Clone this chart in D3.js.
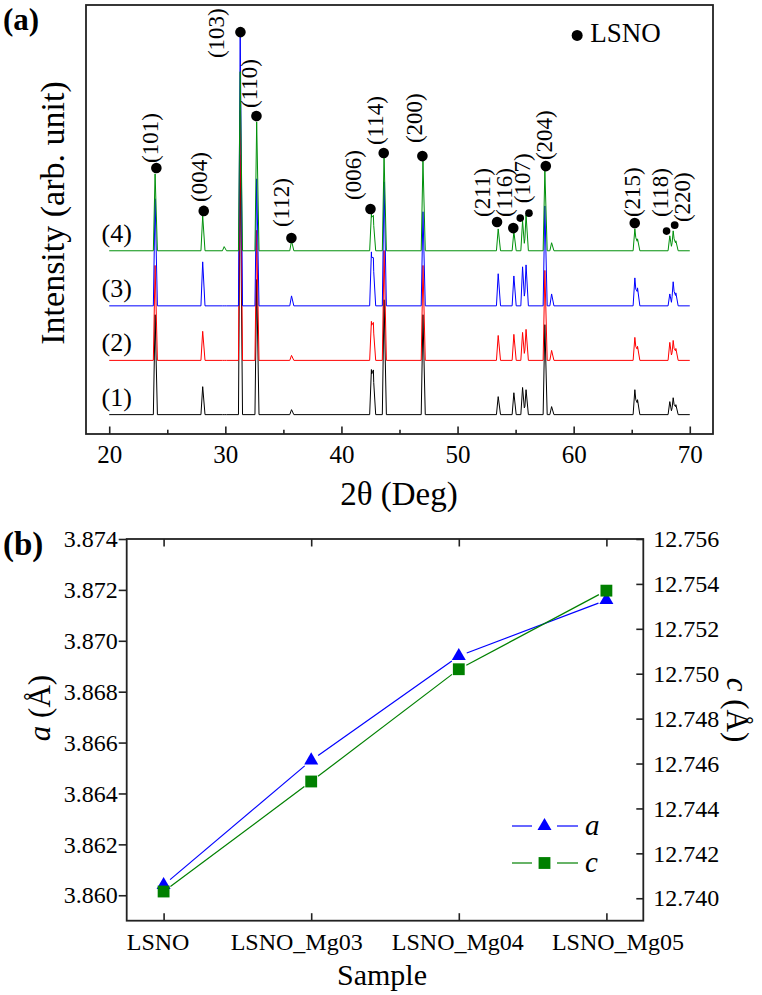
<!DOCTYPE html>
<html><head><meta charset="utf-8">
<script src="https://cdn.jsdelivr.net/npm/d3@7"></script>
<style>
body{margin:0;background:#fff}
svg{display:block}
text{font-family:"Liberation Serif","Times New Roman",Times,serif;fill:#000}
</style>
</head><body>
<svg id="c" width="762" height="995"></svg>
<script>
// ================= DATA =================
// (a) XRD patterns: peak positions (2θ, deg) and peak intensities (a.u.) per sample
const peakTheta = [23.95, 28.05, 29.9, 31.28, 32.7, 35.7, 42.58, 42.75, 43.67, 47.02, 53.5, 54.85, 55.6, 55.9, 57.52, 58.1, 65.27, 65.5, 68.28, 68.57, 68.8];
const pattern1  = [36.1, 10.1, 0.0, 93.9, 48.8, 1.8, 16.3, 13.7, 41.5, 36.1, 6.5, 7.9, 9.8, 9.0, 32.5, 2.9, 9.0, 5.4, 4.7, 6.1, 3.6]; // (1) black
const pattern2  = [34.3, 10.5, 0.0, 90.3, 47.0, 1.8, 14.1, 11.6, 39.7, 34.3, 9.0, 9.4, 10.1, 11.2, 32.5, 3.6, 8.3, 5.1, 6.5, 7.2, 4.3]; // (2) red
const pattern3  = [38.7, 15.9, 0.0, 99.7, 45.9, 3.6, 19.5, 14.5, 44.8, 34.0, 11.6, 10.8, 14.1, 14.8, 36.1, 4.3, 10.1, 6.5, 4.3, 8.7, 4.7]; // (3) blue
const pattern4  = [27.8, 12.6, 1.5, 64.7, 46.6, 3.6, 13.4, 10.8, 34.3, 32.5, 7.9, 6.9, 10.8, 13.0, 28.9, 2.9, 7.9, 4.3, 5.4, 7.2, 3.6]; // (4) green
const stackOffset = [0, 19.6, 39.3, 59.2];
const sampleTags = ["(1)", "(2)", "(3)", "(4)"];
const thetaRange = [20, 70];
const thetaTicks = [20, 30, 40, 50, 60, 70];
const thetaMinorTicks = [25, 35, 45, 55, 65];

// LSNO reflection markers
const hklLabels = ["(101)", "(004)", "(103)", "(110)", "(112)", "(006)", "(114)", "(200)", "(211)", "(116)", "", "(107)", "(204)", "(215)", "(118)", "(220)"];
const hklTheta  = [24.06, 28.14, 31.3, 32.68, 35.69, 42.5, 43.64, 46.97, 53.4, 54.8, 55.4, 56.15, 57.6, 65.26, 68.0, 68.7];
const hklI      = [89.1, 73.6, 138.2, 107.9, 63.8, 74.3, 94.5, 93.4, 69.6, 67.4, 71.0, 72.8, 89.8, 69.2, 66.3, 68.5];

// (b) lattice parameters
const samples = ["LSNO", "LSNO_Mg03", "LSNO_Mg04", "LSNO_Mg05"];
const aValues = [3.8604, 3.8653, 3.8694, 3.8716];
const cValues = [12.7403, 12.7452, 12.7502, 12.7537];
const aTicks = [3.860, 3.862, 3.864, 3.866, 3.868, 3.870, 3.872, 3.874];
const cTicks = [12.740, 12.742, 12.744, 12.746, 12.748, 12.750, 12.752, 12.754, 12.756];

// ================= STYLE / LAYOUT =================
const seriesColor = ["#000000", "#ff0000", "#0000ff", "#00900a"];
const frameColor = "#222";
const smallDot = {"": 3.8, "(107)": 3.8, "(118)": 3.8, "(220)": 3.9};
const labelOffset = {
  "(101)": [2, -5], "(004)": [3, -9], "(103)": [-16, 26], "(110)": [1, -8], "(112)": [-2, -11],
  "(006)": [-9, -9], "(114)": [-1, -8], "(200)": [0, -13], "(211)": [-7, -5], "(116)": [-1, -11],
  "(107)": [1, -10], "(204)": [6, -6], "(215)": [5, -6], "(118)": [1, -14], "(220)": [15, -3]
};
const sampleLabelShift = [-6, -15, -1.5, 11];

const svg = d3.select("#c");

// ================= PANEL (a) =================
const TP = {l: 86, r: 713, t: 5, b: 434};
const x = d3.scaleLinear().domain([18, 72]).range([TP.l, TP.r]);
const y = d3.scaleLinear().domain([-7, 148]).range([TP.b, TP.t]);

function profile(heights, off) {
  const set = new Set(thetaRange);
  peakTheta.forEach(t => { set.add(+(t - 0.15).toFixed(3)); set.add(t); set.add(+(t + 0.2).toFixed(3)); });
  const xs = [...set].sort((a, b) => a - b);
  return xs.map(xv => {
    let v = 0;
    peakTheta.forEach((t, i) => {
      const h = heights[i];
      if (xv >= t - 0.15 && xv <= t) v += h * Math.min(1, (xv - (t - 0.15)) / 0.15);
      else if (xv > t && xv <= t + 0.2) v += h * ((t + 0.2) - xv) / 0.2;
    });
    return [xv, v + off];
  });
}

const line = d3.line().x(d => x(d[0])).y(d => y(d[1]));
const patterns = [pattern1, pattern2, pattern3, pattern4];
const gA = svg.append("g");
patterns.forEach((p, i) => {
  gA.append("path").datum(profile(p, stackOffset[i]))
    .attr("d", line).attr("fill", "none")
    .attr("stroke", seriesColor[i]).attr("stroke-width", 1).attr("stroke-linejoin", "round");
  gA.append("text").attr("x", x(19.6) - 3).attr("y", y(stackOffset[i]) - 9)
    .attr("font-size", 26).text(sampleTags[i]);
});

// markers
hklTheta.forEach((t, i) => {
  const lab = hklLabels[i];
  const cx = x(t), cy = y(hklI[i]);
  gA.append("circle").attr("cx", cx).attr("cy", cy)
    .attr("r", smallDot[lab] !== undefined ? smallDot[lab] : 5.3).attr("fill", "#000");
  if (lab) {
    const o = labelOffset[lab];
    gA.append("text").attr("transform", `translate(${cx + o[0]},${cy + o[1]}) rotate(-90)`)
      .attr("font-size", 23).text(lab);
  }
});

// legend
gA.append("circle").attr("cx", x(60.3)).attr("cy", y(137)).attr("r", 5.5).attr("fill", "#000");
gA.append("text").attr("x", x(60.3) + 13).attr("y", y(137) + 7).attr("font-size", 27).text("LSNO");

// frame + axis
gA.append("rect").attr("x", TP.l).attr("y", TP.t).attr("width", TP.r - TP.l).attr("height", TP.b - TP.t)
  .attr("fill", "none").attr("stroke", frameColor).attr("stroke-width", 1.8);
const axA = gA.append("g").attr("transform", `translate(0,${TP.b})`)
  .call(d3.axisBottom(x).tickValues(thetaTicks).tickSizeInner(-7.5).tickSizeOuter(0).tickPadding(11));
axA.select(".domain").remove();
axA.selectAll("line").attr("stroke", frameColor).attr("stroke-width", 1.6);
axA.selectAll("text").attr("font-size", 25).attr("font-family", null);
const axAm = gA.append("g").attr("transform", `translate(0,${TP.b})`)
  .call(d3.axisBottom(x).tickValues(thetaMinorTicks).tickSizeInner(-4.3).tickSizeOuter(0).tickFormat(""));
axAm.select(".domain").remove();
axAm.selectAll("line").attr("stroke", frameColor).attr("stroke-width", 1.6);

gA.append("text").attr("x", 399).attr("y", 505).attr("text-anchor", "middle").attr("font-size", 33).text("2θ (Deg)");
gA.append("text").attr("transform", "translate(64,213) rotate(-90)").attr("text-anchor", "middle")
  .attr("font-size", 34).text("Intensity (arb. unit)");
svg.append("text").attr("x", 3).attr("y", 30).attr("font-size", 31).attr("font-weight", "bold").text("(a)");

// ================= PANEL (b) =================
const BP = {l: 126.7, r: 643.3, t: 539, b: 920.7};
const xb = d3.scaleLinear().domain([-0.25, 3.25]).range([BP.l, BP.r]);
const ya = d3.scaleLinear().domain([3.859, 3.874]).range([BP.b, BP.t]);
const yc = d3.scaleLinear().domain([12.739, 12.756]).range([BP.b, BP.t]);
const gB = svg.append("g");

gB.append("rect").attr("x", BP.l).attr("y", BP.t).attr("width", BP.r - BP.l).attr("height", BP.b - BP.t)
  .attr("fill", "none").attr("stroke", frameColor).attr("stroke-width", 1.8);

const idx = samples.map((s, i) => i);
function styleAxis(g) {
  g.select(".domain").remove();
  g.selectAll("line").attr("stroke", frameColor).attr("stroke-width", 1.6);
  g.selectAll("text").attr("font-size", 24).attr("font-family", null);
}
gB.append("g").attr("transform", `translate(0,${BP.b})`)
  .call(d3.axisBottom(xb).tickValues(idx).tickFormat(i => samples[i]).tickSizeInner(-7.5).tickSizeOuter(0).tickPadding(12))
  .call(styleAxis)
  .selectAll(".tick text").attr("dx", (d, i) => sampleLabelShift[i]);
gB.append("g").attr("transform", `translate(0,${BP.t})`)
  .call(d3.axisTop(xb).tickValues(idx).tickFormat("").tickSizeInner(-7.5).tickSizeOuter(0))
  .call(styleAxis);
gB.append("g").attr("transform", `translate(${BP.l},0)`)
  .call(d3.axisLeft(ya).tickValues(aTicks).tickFormat(d3.format(".3f")).tickSizeInner(8).tickSizeOuter(0).tickPadding(1))
  .call(styleAxis);
gB.append("g").attr("transform", `translate(${BP.r},0)`)
  .call(d3.axisRight(yc).tickValues(cTicks).tickFormat(d3.format(".3f")).tickSizeInner(-7).tickSizeOuter(0).tickPadding(10))
  .call(styleAxis);

// series lines with gaps near symbols
function gapLines(vals, ys, color) {
  for (let i = 0; i < vals.length - 1; i++) {
    const x1 = xb(i), y1 = ys(vals[i]), x2 = xb(i + 1), y2 = ys(vals[i + 1]);
    const len = Math.hypot(x2 - x1, y2 - y1), g = 8.5;
    const ux = (x2 - x1) / len, uy = (y2 - y1) / len;
    gB.append("line").attr("x1", x1 + ux * g).attr("y1", y1 + uy * g)
      .attr("x2", x2 - ux * g).attr("y2", y2 - uy * g).attr("stroke", color).attr("stroke-width", 1.2);
  }
}
gapLines(aValues, ya, "#0000ff");
gapLines(cValues, yc, "#008000");
const tri = d3.symbol().type(d3.symbolTriangle).size(85);
const sq = d3.symbol().type(d3.symbolSquare).size(140);
aValues.forEach((v, i) => gB.append("path").attr("d", tri()).attr("transform", `translate(${xb(i)},${ya(v)})`).attr("fill", "#0000ff"));
cValues.forEach((v, i) => gB.append("path").attr("d", sq()).attr("transform", `translate(${xb(i)},${yc(v)})`).attr("fill", "#008000"));

// legend
const legItems = [{name: "a", color: "#0000ff", sym: tri, yy: 826}, {name: "c", color: "#008000", sym: sq, yy: 863}];
legItems.forEach(it => {
  gB.append("line").attr("x1", 512).attr("x2", 532).attr("y1", it.yy).attr("y2", it.yy).attr("stroke", it.color).attr("stroke-width", 1.2);
  gB.append("line").attr("x1", 557).attr("x2", 578).attr("y1", it.yy).attr("y2", it.yy).attr("stroke", it.color).attr("stroke-width", 1.2);
  gB.append("path").attr("d", it.sym()).attr("transform", `translate(544.5,${it.yy})`).attr("fill", it.color);
  gB.append("text").attr("x", 585).attr("y", it.yy + 9).attr("font-size", 29).attr("font-style", "italic").text(it.name);
});

// axis titles
const la = gB.append("text").attr("transform", "translate(50,708) rotate(-90)").attr("text-anchor", "middle").attr("font-size", 31);
la.append("tspan").attr("font-style", "italic").text("a");
la.append("tspan").text(" (Å)");
const lc = gB.append("text").attr("transform", "translate(727,710) rotate(90)").attr("text-anchor", "middle").attr("font-size", 31);
lc.append("tspan").attr("font-style", "italic").text("c");
lc.append("tspan").text(" (Å)");
gB.append("text").attr("x", 382).attr("y", 985).attr("text-anchor", "middle").attr("font-size", 30).text("Sample");
svg.append("text").attr("x", 3).attr("y", 555).attr("font-size", 33).attr("font-weight", "bold").text("(b)");
</script>
</body></html>
